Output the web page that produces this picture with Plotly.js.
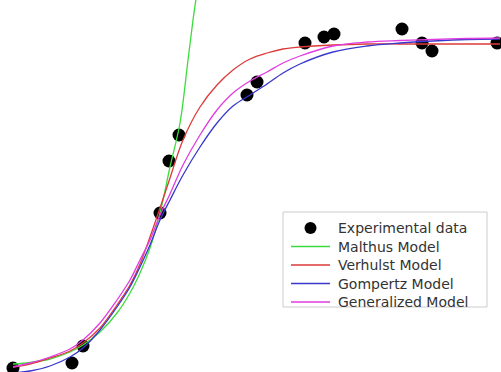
<!DOCTYPE html>
<html>
<head>
<meta charset="utf-8">
<script src="https://cdn.plot.ly/plotly-3.0.1.min.js"></script>
<style>
  html, body { margin: 0; padding: 0; background: #ffffff; }
  #chart { width: 501px; height: 372px; }
</style>
</head>
<body>
<div id="chart"></div>
<script>
// Measured growth (time in hours, optical density)
const dataTime = [0, 5.9, 7.0, 14.7, 15.6, 16.6, 23.4, 24.4, 29.2, 31.1, 32.1, 38.9, 40.9, 41.9, 48.4];
const dataValue = [0, 0.05, 0.22, 1.55, 2.07, 2.33, 2.73, 2.86, 3.25, 3.31, 3.34, 3.39, 3.25, 3.17, 3.25];

// Fitted model curves, sampled on a common time grid
const modelTime = [0, 1.7, 3.7, 5.7, 7.0, 8.7, 10.4, 11.7, 12.7, 13.7, 14.7, 15.7, 17.0,
                   18.7, 20.4, 22.0, 23.7, 25.4, 27.0, 28.7, 32.0, 35.4, 38.7, 42.0, 45.4, 48.7];
const verhulst = [0.01, 0.04, 0.10, 0.17, 0.25, 0.40, 0.63, 0.83, 1.04, 1.31, 1.60, 1.90, 2.28,
                  2.61, 2.83, 2.98, 3.09, 3.15, 3.19, 3.21, 3.23, 3.24, 3.24, 3.24, 3.24, 3.24];
const gompertz = [-0.05, -0.03, 0.02, 0.11, 0.20, 0.38, 0.61, 0.81, 1.01, 1.23, 1.48, 1.68, 1.93,
                  2.21, 2.45, 2.62, 2.73, 2.84, 2.95, 3.04, 3.16, 3.22, 3.25, 3.27, 3.285, 3.29];
const generalized = [0.01, 0.05, 0.11, 0.19, 0.28, 0.45, 0.68, 0.88, 1.08, 1.28, 1.53, 1.74, 2.03,
                     2.33, 2.58, 2.75, 2.87, 2.96, 3.05, 3.12, 3.22, 3.26, 3.275, 3.285, 3.295, 3.30];

// Exponential (Malthus) model leaves the frame early
const malthusTime = [0, 1.7, 3.7, 5.7, 7.0, 8.7, 10.4, 11.7, 12.7, 13.7, 14.7, 15.7, 16.7, 17.5, 18.0, 18.4];
const malthus = [0.04, 0.055, 0.09, 0.16, 0.23, 0.36, 0.55, 0.75, 0.95, 1.20, 1.55, 2.01, 2.45, 3.08, 3.48, 3.76];

const seriesNames = ['Experimental data', 'Malthus Model', 'Verhulst Model', 'Gompertz Model', 'Generalized Model'];
const seriesColors = ['#000000', '#3ddc3d', '#dd3a3a', '#3838cc', '#e03ce0'];

const W = 501, H = 372;
const lineWidth = 1.3;

const modelX = [malthusTime, modelTime, modelTime, modelTime];
const modelY = [malthus, verhulst, gompertz, generalized];

const traces = [{
  x: dataTime, y: dataValue, name: seriesNames[0],
  type: 'scatter', mode: 'markers',
  marker: { color: seriesColors[0], size: 13, line: { width: 0 } }
}];
for (let i = 0; i < modelY.length; i++) {
  traces.push({
    x: modelX[i], y: modelY[i], name: seriesNames[i + 1],
    type: 'scatter', mode: 'lines',
    line: { color: seriesColors[i + 1], width: lineWidth, shape: 'spline' }
  });
}

// Legend box drawn in pixel terms, converted to paper coordinates
const px = v => v / W;
const py = v => 1 - v / H;
const box = { left: 283, right: 487, top: 212, bottom: 307 };
const rowTop = 228, rowStep = 18.5;
const symLeft = 291, symRight = 330, textLeft = 337;

const shapes = [{
  type: 'rect', xref: 'paper', yref: 'paper', layer: 'above',
  x0: px(box.left), x1: px(box.right), y0: py(box.bottom), y1: py(box.top),
  line: { color: '#cccccc', width: 1 }, fillcolor: '#ffffff'
}];
const annotations = [];
seriesNames.forEach((name, i) => {
  const rowY = rowTop + i * rowStep;
  if (i === 0) {
    const cx = (symLeft + symRight) / 2, r = 6;
    shapes.push({
      type: 'circle', xref: 'paper', yref: 'paper', layer: 'above',
      x0: px(cx - r), x1: px(cx + r), y0: py(rowY + r), y1: py(rowY - r),
      line: { width: 0 }, fillcolor: seriesColors[0]
    });
  } else {
    shapes.push({
      type: 'line', xref: 'paper', yref: 'paper', layer: 'above',
      x0: px(symLeft), x1: px(symRight), y0: py(rowY), y1: py(rowY),
      line: { color: seriesColors[i], width: lineWidth }
    });
  }
  annotations.push({
    text: name, xref: 'paper', yref: 'paper',
    x: px(textLeft), y: py(rowY), xanchor: 'left', yanchor: 'middle',
    showarrow: false, borderpad: 0,
    font: { family: 'DejaVu Sans, sans-serif', size: 14, color: '#333333' }
  });
});

const layout = {
  width: W,
  height: H,
  margin: { l: 0, r: 0, t: 0, b: 0, pad: 0 },
  paper_bgcolor: '#ffffff',
  plot_bgcolor: '#ffffff',
  showlegend: false,
  xaxis: { range: [-1.3, 48.8], visible: false, showgrid: false, zeroline: false },
  yaxis: { range: [-0.04, 3.68], visible: false, showgrid: false, zeroline: false },
  shapes: shapes,
  annotations: annotations
};

Plotly.newPlot('chart', traces, layout, { staticPlot: true, displayModeBar: false });
</script>
</body>
</html>
